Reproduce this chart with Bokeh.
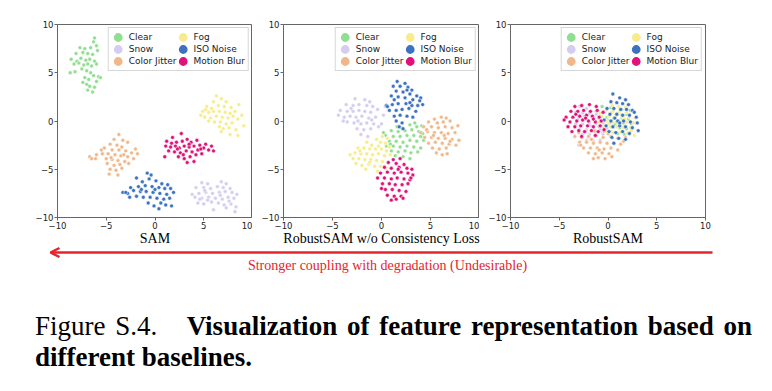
from bokeh.plotting import figure
from bokeh.models import (Range1d, FixedTicker, Legend, LegendItem, Arrow,
                          OpenHead, Label, Div)
from bokeh.layouts import column, row
from bokeh.embed import file_html
from bokeh.resources import INLINE

classes = ["Clear", "Snow", "Color Jitter", "Fog", "ISO Noise", "Motion Blur"]
colors = ["#90de90", "#d5cdf0", "#f0b88a", "#f6ec8c", "#3c72c0", "#e2107a"]
ticks = [-10, -5, 0, 5, 10]
tick_labels = ["\u221210", "\u22125", "0", "5", "10"]
titles = ["SAM", "RobustSAM w/o Consistency Loss", "RobustSAM"]
arrow_text = "Stronger coupling with degradation (Undesirable)"
caption_head = "Figure S.4."
caption_line1 = "Visualization of feature representation based on"
caption_line2 = "different baselines."

# ---------------- SAM ----------------
sam_clear = [(-6.2,8.6),(-6.3,8.2),(-7.7,7.6),(-7.2,7.5),(-6.6,7.6),(-6.0,7.8),(-8.1,7.0),(-7.4,7.1),(-6.9,7.0),(-6.4,6.9),
             (-5.9,7.3),(-8.6,6.4),(-8.0,6.2),(-7.6,6.5),(-7.1,6.3),(-6.7,6.4),(-6.2,6.2),(-8.3,5.9),(-7.8,6.0),(-7.3,5.8),
             (-6.9,5.9),(-6.5,5.7),(-6.0,5.9),(-8.7,5.0),(-8.2,5.1),(-7.5,5.4),(-7.0,5.2),(-6.6,5.0),(-5.8,4.6),(-7.2,4.5),
             (-6.8,4.3),(-6.3,4.7),(-5.6,4.5),(-7.0,3.8),(-6.7,3.6),(-6.2,3.5),(-6.9,3.2),(-6.4,3.0),(-7.4,4.0),(-6.0,4.1)]
sam_snow = [(4.8,-6.4),(5.4,-6.5),(6.8,-6.3),(7.3,-6.5),(4.2,-6.9),(5.0,-6.9),(5.7,-7.0),(6.4,-6.8),(7.0,-6.9),(7.7,-7.0),
            (3.8,-7.6),(4.5,-7.5),(5.2,-7.4),(5.9,-7.5),(6.6,-7.4),(7.2,-7.3),(7.9,-7.4),(8.4,-7.6),(4.1,-7.9),(4.8,-8.0),
            (5.5,-7.9),(6.2,-8.0),(6.9,-8.1),(7.5,-7.9),(8.1,-8.0),(4.4,-8.5),(5.0,-8.6),(5.8,-8.4),(6.5,-8.5),(7.1,-8.7),
            (7.8,-8.6),(8.3,-8.9),(6.0,-9.2),(7.3,-9.0),(8.2,-9.4),(4.6,-8.1),(6.7,-7.7),(5.4,-8.2),(7.6,-8.3),(5.1,-7.2)]
sam_jitter = [(-3.7,-1.4),(-4.2,-1.9),(-3.3,-2.0),(-2.8,-2.2),(-4.6,-2.4),(-3.9,-2.5),(-3.4,-2.7),(-5.2,-2.8),(-4.4,-3.0),(-3.7,-3.0),
              (-3.0,-3.1),(-2.4,-3.3),(-1.8,-3.4),(-6.0,-3.5),(-5.4,-3.4),(-4.8,-3.4),(-4.1,-3.5),(-3.5,-3.6),(-2.8,-3.7),(-2.2,-3.9),
              (-6.7,-3.7),(-6.1,-3.9),(-5.0,-3.9),(-4.4,-4.0),(-3.8,-4.1),(-3.1,-4.2),(-4.9,-4.4),(-4.2,-4.6),(-3.6,-4.5),(-2.7,-4.4),
              (-4.6,-5.0),(-4.0,-5.1),(-3.4,-4.9),(-4.7,-5.5),(-3.8,-5.6),(-5.5,-3.0),(-6.5,-3.9),(-2.0,-2.9),(-3.2,-3.5),(-4.5,-3.8)]
sam_fog = [(6.3,2.6),(6.8,2.3),(7.3,2.0),(5.3,1.5),(5.8,1.3),(6.5,1.6),(7.1,1.5),(7.8,1.4),(8.6,1.7),(4.9,1.0),
           (5.5,0.9),(6.0,1.0),(6.6,1.0),(7.2,0.9),(7.7,0.8),(8.2,1.0),(8.9,0.6),(5.1,0.4),(5.7,0.3),(6.3,0.5),
           (6.9,0.4),(7.5,0.3),(8.0,0.5),(8.5,0.2),(5.5,0.0),(6.1,-0.1),(6.7,-0.1),(7.3,-0.3),(7.9,-0.2),(9.1,-0.5),
           (6.6,-0.6),(7.0,-0.8),(7.6,-0.7),(8.3,-0.9),(6.8,-1.1),(7.7,-1.4),(8.5,-1.5),(4.7,0.6),(5.2,1.2),(6.0,2.0)]
sam_iso = [(-0.8,-5.4),(-0.4,-5.6),(-1.9,-5.9),(-0.6,-6.0),(-1.3,-6.3),(0.1,-6.2),(0.7,-6.5),(1.3,-6.6),(-2.5,-6.9),(-1.7,-6.8),
           (-1.0,-6.7),(-0.3,-6.8),(0.4,-6.9),(1.0,-7.0),(1.6,-7.0),(-3.3,-7.4),(-2.8,-7.5),(-2.2,-7.2),(-1.5,-7.3),(-0.9,-7.3),
           (-0.2,-7.4),(0.5,-7.5),(1.2,-7.6),(1.9,-7.4),(-2.6,-7.9),(-1.9,-7.8),(-1.2,-7.9),(-0.5,-7.9),(0.2,-8.0),(0.9,-8.1),
           (1.5,-8.0),(-0.7,-8.5),(0.6,-8.5),(1.1,-8.7),(-0.1,-8.8),(0.4,-9.1),(1.7,-8.8),(-1.4,-7.1),(0.0,-7.1),(-3.0,-7.4)]
sam_blur = [(1.8,-1.7),(2.7,-1.3),(3.3,-1.9),(1.2,-2.1),(1.7,-2.3),(2.2,-2.2),(2.8,-2.1),(3.7,-2.2),(4.3,-2.0),(1.1,-2.6),
            (1.6,-2.7),(2.1,-2.6),(2.5,-2.8),(3.0,-2.6),(3.5,-2.7),(4.0,-2.6),(4.6,-2.5),(5.2,-2.4),(5.8,-2.6),(1.4,-3.1),
            (2.0,-3.2),(2.6,-3.3),(3.2,-3.1),(3.8,-3.2),(4.4,-3.0),(5.0,-2.8),(5.5,-3.0),(6.0,-3.1),(1.0,-3.7),(2.4,-3.7),
            (3.0,-3.9),(3.6,-3.7),(4.2,-3.5),(4.8,-3.4),(3.3,-4.3),(4.0,-4.2),(2.3,-2.9),(3.5,-2.4),(4.7,-2.9),(2.9,-3.5)]

# ---------------- RobustSAM w/o Consistency Loss ----------------
nocons_clear = [(1.6,-0.6),(2.9,-0.4),(3.6,-0.6),(4.1,-0.5),(1.0,-1.0),(1.7,-1.1),(2.4,-1.0),(3.1,-0.9),(3.8,-1.1),(0.4,-1.5),
                (1.2,-1.6),(1.9,-1.6),(2.6,-1.5),(3.3,-1.5),(4.0,-1.6),(0.8,-2.1),(1.5,-2.1),(2.2,-2.2),(2.9,-2.0),(3.6,-2.1),
                (4.3,-2.0),(0.5,-2.6),(1.2,-2.6),(1.9,-2.7),(2.6,-2.6),(3.3,-2.7),(4.0,-2.8),(1.0,-3.1),(1.7,-3.2),(2.4,-3.1),
                (3.0,-3.3),(3.7,-3.2),(1.4,-3.6),(2.2,-3.7),(2.9,-3.9),(3.4,-0.2),(0.2,-1.2),(2.0,-0.7),(4.2,-1.3),(0.9,-2.4)]
nocons_snow = [(-2.7,2.3),(-1.7,2.2),(-1.2,2.0),(-3.6,1.7),(-2.9,1.6),(-2.3,1.7),(-1.5,1.6),(-0.9,1.5),(-4.2,1.1),(-3.5,1.0),
               (-2.9,1.0),(-2.3,1.1),(-1.7,1.0),(-1.1,0.9),(-0.4,1.2),(0.4,1.5),(-4.4,0.6),(-3.8,0.4),(-3.2,0.5),(-2.6,0.4),
               (-2.0,0.5),(-1.3,0.3),(-0.6,0.4),(0.2,0.6),(-3.5,-0.1),(-2.8,-0.2),(-2.1,-0.3),(-1.5,-0.2),(-0.8,-0.3),(-2.5,-0.8),
               (-1.8,-0.9),(-1.1,-0.8),(-0.3,-0.6),(-2.1,-1.4),(-1.4,-1.6),(-3.9,0.0),(-1.0,0.1),(-2.4,0.0),(0.0,-0.3),(-3.1,1.3)]
nocons_jitter = [(6.1,0.4),(6.6,0.3),(5.4,0.2),(4.8,-0.1),(5.7,-0.2),(6.3,-0.1),(7.0,0.0),(7.8,-0.5),(4.3,-0.6),(5.1,-0.6),
                 (5.8,-0.7),(6.5,-0.6),(7.2,-0.7),(4.0,-1.2),(4.7,-1.1),(5.4,-1.2),(6.1,-1.2),(6.8,-1.3),(7.5,-1.2),(4.4,-1.7),
                 (5.1,-1.7),(5.8,-1.8),(6.5,-1.8),(7.2,-1.9),(7.9,-2.0),(4.8,-2.3),(5.5,-2.2),(6.2,-2.3),(6.9,-2.4),(7.6,-2.5),
                 (5.2,-2.8),(5.9,-2.9),(6.6,-2.8),(5.6,-3.3),(6.2,-3.5),(6.7,-3.4),(4.6,-0.9),(6.4,-1.5),(5.3,-1.5),(7.0,-2.1)]
nocons_fog = [(0.1,-1.6),(0.6,-1.8),(-0.5,-1.9),(-0.1,-2.2),(0.4,-2.3),(-1.5,-2.2),(-1.0,-2.5),(0.8,-2.7),(-2.4,-2.8),(-1.8,-2.8),
              (-1.2,-2.9),(-0.6,-2.9),(0.0,-2.9),(0.5,-3.1),(-3.2,-3.5),(-2.7,-3.3),(-2.1,-3.4),(-1.5,-3.4),(-0.9,-3.5),(-0.3,-3.4),
              (0.3,-3.6),(0.9,-3.5),(-2.9,-3.9),(-2.3,-3.9),(-1.7,-4.0),(-1.1,-4.0),(-0.5,-4.1),(0.1,-4.2),(0.7,-4.3),(-2.6,-4.4),
              (-2.0,-4.6),(-1.3,-4.5),(-0.7,-4.7),(-0.1,-4.7),(-1.6,-5.0),(-0.4,-5.2),(-2.2,-3.1),(-0.3,-2.6),(-1.2,-4.3),(0.5,-4.9)]
nocons_iso = [(1.6,4.1),(2.4,3.9),(1.2,3.6),(1.9,3.6),(2.7,3.5),(3.1,3.2),(1.5,3.1),(2.2,3.0),(2.9,2.8),(3.6,2.6),
              (4.0,2.4),(1.0,2.6),(1.7,2.5),(2.4,2.4),(3.2,2.2),(3.9,2.1),(0.5,1.6),(1.1,1.7),(1.7,1.8),(2.5,1.8),
              (3.1,1.6),(3.7,1.6),(4.2,1.7),(0.8,1.1),(1.5,1.1),(2.1,1.2),(2.8,1.3),(3.5,1.0),(1.3,0.5),(1.9,0.6),
              (2.6,0.5),(3.2,0.4),(1.5,0.0),(2.1,-0.2),(1.8,-0.6),(2.2,-0.8),(2.9,1.9),(0.6,1.5),(1.3,2.2),(2.6,3.2)]
nocons_blur = [(1.2,-4.0),(1.9,-3.9),(0.7,-4.3),(1.5,-4.4),(2.3,-4.5),(0.3,-4.8),(1.0,-4.9),(1.8,-4.8),(2.6,-4.9),(3.1,-5.0),
               (-0.1,-5.4),(0.6,-5.3),(1.3,-5.4),(2.0,-5.3),(2.7,-5.4),(3.2,-5.6),(-0.4,-5.9),(0.3,-5.9),(1.0,-6.0),(1.6,-5.9),
               (2.3,-6.0),(2.9,-6.1),(0.1,-6.5),(0.8,-6.5),(1.4,-6.6),(2.1,-6.6),(2.7,-6.5),(0.4,-7.1),(1.1,-7.1),(1.8,-7.2),
               (2.5,-7.3),(0.6,-7.7),(1.3,-7.8),(2.0,-7.8),(1.5,-8.1),(1.0,-8.2),(2.2,-8.0),(3.0,-5.9),(0.0,-7.0),(1.7,-5.0)]

# ---------------- RobustSAM ----------------
robust_clear = [(-0.6,1.5),(0.3,1.4),(1.4,1.2),(2.3,1.1),(-1.2,1.0),(-0.4,0.9),(0.4,0.9),(1.1,0.8),(1.9,0.7),(-1.5,0.4),
                (-0.8,0.4),(-0.1,0.4),(0.6,0.3),(1.4,0.3),(2.1,0.2),(-1.2,-0.1),(-0.5,-0.1),(0.2,-0.2),(0.9,-0.1),(1.6,-0.2),
                (2.4,-0.3),(-0.9,-0.6),(-0.2,-0.7),(0.5,-0.6),(1.2,-0.7),(1.9,-0.8),(-1.3,-1.1),(-0.5,-1.2),(0.3,-1.1),(1.0,-1.3),
                (1.7,-1.4),(-0.1,0.1),(0.7,-0.4)]
robust_snow = [(-2.9,1.5),(-2.2,1.3),(-3.3,0.9),(-2.6,0.8),(-1.9,0.8),(-1.2,0.7),(-3.0,0.3),(-2.3,0.2),(-1.6,0.3),(-0.9,0.2),
               (-3.3,-0.3),(-2.6,-0.3),(-1.9,-0.2),(-1.2,-0.3),(-0.5,-0.2),(-2.9,-0.8),(-2.2,-0.9),(-1.5,-0.8),(-0.8,-0.9),(-0.1,-0.8),
               (-2.6,-1.4),(-1.9,-1.4),(-1.2,-1.5),(-0.5,-1.4),(-2.2,-2.0),(-1.5,-2.1),(-0.8,-2.0),(-3.0,-2.5),(-1.8,-0.5),(-2.4,0.5)]
robust_jitter = [(-3.0,-1.2),(-2.3,-1.1),(-1.4,-1.0),(-0.4,-1.1),(0.5,-1.2),(1.4,-1.1),(-3.4,-1.6),(-2.7,-1.7),(-2.0,-1.6),(-1.2,-1.5),
                 (-0.5,-1.7),(0.3,-1.6),(1.0,-1.8),(1.8,-1.7),(-2.9,-2.2),(-2.2,-2.2),(-1.5,-2.3),(-0.8,-2.2),(-0.1,-2.3),(0.6,-2.3),
                 (1.3,-2.4),(-2.5,-2.8),(-1.8,-2.8),(-1.1,-2.8),(-0.4,-2.9),(0.3,-2.8),(1.0,-3.0),(-2.0,-3.3),(-1.3,-3.4),(-0.6,-3.3),
                 (0.1,-3.4),(-1.0,-3.8),(-0.3,-3.9),(0.4,-3.7),(-1.5,-3.9),(-2.8,-2.5),(1.6,-2.1),(0.0,-1.3),(-1.7,-1.9),(-0.9,-3.0)]
robust_fog = [(0.4,1.6),(1.1,1.5),(1.8,1.4),(-0.2,1.1),(0.5,1.0),(1.2,1.0),(1.9,0.9),(2.5,1.0),(-0.6,0.5),(0.1,0.5),
              (0.8,0.5),(1.5,0.4),(2.2,0.4),(2.8,0.3),(-0.9,-0.1),(-0.2,0.0),(0.5,-0.1),(1.2,0.0),(1.9,-0.1),(2.6,-0.2),
              (-0.5,-0.6),(0.2,-0.6),(0.9,-0.6),(1.6,-0.7),(2.3,-0.7),(-0.2,-1.1),(0.5,-1.2),(1.3,-1.2),(2.0,-1.3),(2.7,-1.5),
              (1.0,0.8),(0.0,-0.3),(1.7,0.2),(-0.8,0.8),(2.4,-1.0)]
robust_iso = [(0.5,2.8),(1.2,2.4),(1.8,2.2),(0.3,2.0),(0.9,1.9),(1.5,1.8),(2.1,1.7),(-0.1,1.3),(0.6,1.3),(1.3,1.2),
              (1.9,1.2),(2.5,1.1),(0.2,0.7),(0.9,0.7),(1.5,0.6),(2.2,0.6),(2.9,0.4),(-0.4,0.1),(0.3,0.0),(1.0,0.0),
              (1.6,0.0),(2.3,-0.1),(3.0,-0.2),(-0.2,-0.5),(0.5,-0.6),(1.2,-0.5),(1.8,-0.6),(2.5,-0.7),(0.1,-1.1),(0.8,-1.2),
              (1.5,-1.1),(2.2,-1.3),(0.4,-1.7),(1.1,-1.8),(1.8,-1.9),(0.6,-2.3),(3.1,-1.0),(2.7,0.9),(1.2,-0.2),(0.7,0.3)]
robust_blur = [(-3.4,1.5),(-2.7,1.6),(-1.9,1.7),(-1.2,1.5),(-3.8,1.0),(-3.1,1.0),(-2.5,1.1),(-1.8,1.0),(-1.1,1.1),(-0.5,0.9),
               (-4.3,0.4),(-3.6,0.4),(-2.9,0.5),(-2.2,0.6),(-1.6,0.5),(-0.9,0.4),(-4.5,0.1),(-3.9,-0.1),(-3.2,0.0),(-2.6,0.1),
               (-2.0,0.0),(-1.3,-0.1),(-0.7,0.0),(-4.1,-0.6),(-3.4,-0.6),(-2.8,-0.5),(-2.1,-0.5),(-1.5,-0.6),(-0.8,-0.5),(-3.7,-1.1),
               (-3.0,-1.0),(-2.4,-1.1),(-1.7,-1.0),(-1.0,-1.1),(-2.7,-1.6),(-1.3,-1.5),(-0.4,-0.9),(-2.3,0.3),(-1.5,0.2),(-3.3,0.7)]

panels = [
    [sam_clear, sam_snow, sam_jitter, sam_fog, sam_iso, sam_blur],
    [nocons_clear, nocons_snow, nocons_jitter, nocons_fog, nocons_iso, nocons_blur],
    [robust_clear, robust_snow, robust_jitter, robust_fog, robust_iso, robust_blur],
]

AX = "#666666"
TXT = "#222222"
TOP = 24
FH = 193
BOTTOM = 14
lefts = [57, 31, 31]
widths = [195, 196, 195]
rights = [0, 0, 59]


def make_panel(data, lb, rb, fw):
    p = figure(frame_width=fw, frame_height=FH,
               x_range=Range1d(-10, 10), y_range=Range1d(-10, 10),
               output_backend="svg", toolbar_location=None,
               min_border_left=lb, min_border_right=rb,
               min_border_top=TOP, min_border_bottom=BOTTOM)
    p.xgrid.visible = False
    p.ygrid.visible = False
    p.outline_line_color = AX
    p.outline_line_alpha = 1
    p.background_fill_color = "white"
    p.border_fill_color = "white"
    for ax in (p.xaxis[0], p.yaxis[0]):
        ax.ticker = FixedTicker(ticks=ticks)
        ax.major_label_overrides = {t: s for t, s in zip(ticks, tick_labels)}
        ax.axis_line_color = AX
        ax.major_tick_line_color = AX
        ax.major_tick_out = 3
        ax.major_tick_in = 0
        ax.minor_tick_line_color = None
        ax.major_label_text_font = "DejaVu Sans"
        ax.major_label_text_font_size = "8.5px"
        ax.major_label_text_color = TXT
        ax.major_label_standoff = 1

    items = []
    for name, col, pts in zip(classes, colors, data):
        xs = [q[0] for q in pts]
        ys = [q[1] for q in pts]
        p.scatter(x=xs, y=ys, marker="circle", size=3.9, fill_color=col,
                  fill_alpha=1.0, line_color="white", line_width=0.5)
        dummy = p.scatter(x=xs, y=ys, marker="circle", size=3.9, fill_color=col,
                          line_color=col, line_width=4, visible=False)
        items.append(LegendItem(label=name, renderers=[dummy]))
    leg = Legend(items=items, location="top_right", ncols=2,
                 label_text_font="DejaVu Sans", label_text_font_size="9px",
                 label_text_color=TXT, label_height=12, glyph_height=12,
                 glyph_width=12, spacing=0, padding=3, margin=3,
                 label_standoff=5, border_line_color="#cccccc",
                 border_line_alpha=0.8, background_fill_alpha=0.85,
                 inactive_fill_alpha=0)
    p.add_layout(leg)
    return p


figs = [make_panel(panels[i], lefts[i], rights[i], widths[i]) for i in range(3)]

# centres of the three frames, in page pixels
centres = []
xpos = 0
for lb, fw, rb in zip(lefts, widths, rights):
    centres.append(xpos + lb + fw / 2)
    xpos += lb + fw + rb

W = xpos
H2 = 50
pa = figure(width=W, height=H2, x_range=Range1d(0, W), y_range=Range1d(H2, 0),
            output_backend="svg", toolbar_location=None,
            min_border=0, min_border_left=0, min_border_right=0,
            min_border_top=0, min_border_bottom=0)
pa.axis.visible = False
pa.grid.visible = False
pa.outline_line_color = None
pa.border_fill_color = "white"
pa.background_fill_color = "white"

for cx, t in zip(centres, titles):
    pa.add_layout(Label(x=cx, y=7, text=t, text_align="center",
                        text_baseline="middle", text_color="black",
                        text_font="Liberation Serif", text_font_style="normal",
                        text_font_size="14px"))

RED = "#e4242b"
pa.add_layout(Arrow(x_start=712, y_start=21, x_end=50, y_end=21,
                    line_color=RED, line_width=2.5,
                    end=OpenHead(size=9, line_color=RED, line_width=2.5)))
pa.add_layout(Label(x=387, y=34, text=arrow_text, text_align="center",
                    text_baseline="middle", text_color=RED,
                    text_font="Liberation Serif", text_font_style="normal",
                    text_font_size="14px"))

base = ("width:717px;margin-left:30px;font-family:'Liberation Serif',serif;"
        "font-size:27px;line-height:31px;color:#000;white-space:nowrap;")
caption = Div(text=(
    f'<div style="{base}margin-top:25px;text-align:justify;text-align-last:justify;">'
    f'<span>{caption_head}</span>&nbsp;&nbsp; <b>{caption_line1}</b></div>'
    f'<div style="{base}text-align:left;"><b>{caption_line2}</b></div>'),
    width=W, height=95)

layout = column(row(*figs), pa, caption)

open("out.html", "w").write(file_html(layout, INLINE))
